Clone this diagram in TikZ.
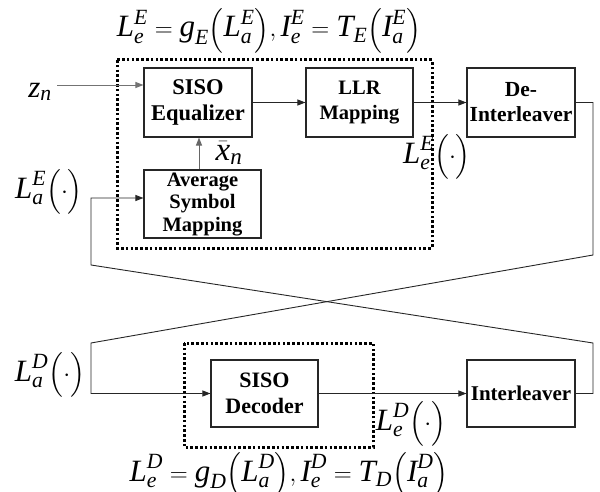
\documentclass[tikz,border=0pt]{standalone}
\usepackage{amsmath}
\usepackage{fontspec}
\setmainfont{Liberation Serif}
\usetikzlibrary{arrows.meta}
\newcommand\mi[1]{\textit{#1}}
\newcommand\LL[2]{\mi{L}_{\mi{#1}}^{\mi{#2}}}
\newcommand\II[2]{\mi{I}_{\mi{#1}}^{\mi{#2}}}
\begin{document}
\begin{tikzpicture}[x=1pt,y=-1pt,
  blk/.style={draw=black!85, line width=1.1pt, align=center, inner sep=0pt},
  big/.style={font=\fontsize{22.5}{26.5}\selectfont\bfseries},
  mid/.style={font=\fontsize{20.5}{24.5}\selectfont\bfseries},
  con/.style={line width=0.9pt, draw=black!85},
  arr/.style={con, -{Triangle[length=8pt,width=6pt]}},
  dotbox/.style={line width=3pt, dash pattern=on 2.6pt off 2.2pt},
  mlab/.style={inner sep=0pt, font=\fontsize{31}{34}\selectfont}]
\useasboundingbox (0,0) rectangle (600,492);

% blocks
\node[blk, big, minimum width=108pt, minimum height=69pt] (eq) at (198,102.5) {SISO\\Equalizer};
\node[blk, mid, minimum width=107pt, minimum height=69pt] (llr) at (359.5,102.5) {LLR\\Mapping};
\node[blk, mid, minimum width=108pt, minimum height=69pt, font=\fontsize{21.5}{25}\selectfont\bfseries] (deint) at (521,102.5) {De-\\Interleaver};
\node[blk, minimum width=117pt, minimum height=68pt, font=\fontsize{20.5}{22.5}\selectfont\bfseries] (avg) at (202.5,204) {Average\\Symbol\\Mapping};
\node[blk, minimum width=107pt, minimum height=67pt, font=\fontsize{22}{26}\selectfont\bfseries] (dec) at (264.5,393.5) {SISO\\Decoder};
\node[blk, minimum width=108pt, minimum height=67pt, font=\fontsize{21}{25}\selectfont\bfseries] (intl) at (521,393.5) {Interleaver};

% labels
\node[mlab, anchor=base] (fE) at (269,37) {$\LL{e}{E}=\mi{g}_{\mi{E}}\Bigl(\LL{a}{E}\Bigr),\II{e}{E}=\mi{T}_{\mi{E}}\Bigl(\II{a}{E}\Bigr)$};
\node[mlab, anchor=base] (fD) at (289,481) {$\LL{e}{D}=\mi{g}_{\mi{D}}\Bigl(\LL{a}{D}\Bigr),\II{e}{D}=\mi{T}_{\mi{D}}\Bigl(\II{a}{D}\Bigr)$};
\node[mlab] (zn) at (40,92) {$\mi{z}_{\mi{n}}$};
\node[mlab, font=\fontsize{33}{36}\selectfont] (xb) at (229,153) {$\bar{\mi{x}}_{\mi{n}}$};
\node[mlab] (LaE) at (49,192) {$\LL{a}{E}\Bigl(\cdot\Bigr)$};
\node[mlab] (LeE) at (437,157) {$\LL{e}{E}\Bigl(\cdot\Bigr)$};
\node[mlab] (LaD) at (50,375) {$\LL{a}{D}\Bigl(\cdot\Bigr)$};
\node[mlab] (LeD) at (411,424) {$\LL{e}{D}\Bigl(\cdot\Bigr)$};

% dotted frames
\draw[dotbox] (117,60) rectangle (432,248);
\draw[dotbox] (184,343) rectangle (373,447);

% connectors
\coordinate (zs) at (57,85);
\coordinate (r1) at (593,255);
\coordinate (l1) at (91,343);
\coordinate (l0) at (91,265);
\coordinate (r2) at (593,343);

\draw[arr, draw=black!55] (zs) -- (zs -| eq.west);
\draw[arr] (eq.east) -- (llr.west);
\draw[arr] (llr.east) -- (deint.west);
\draw[arr, draw=black!60] (avg.north -| 199,0) -- (eq.south -| 199,0);
\draw[arr] (dec.east) -- (intl.west);
\draw[arr] (deint.east) -| (r1) -- (l1) |- (dec.west);
\draw[arr] (intl.east) -| (r2) -- (l0) |- ([yshift=6pt]avg.west);
\end{tikzpicture}
\end{document}
